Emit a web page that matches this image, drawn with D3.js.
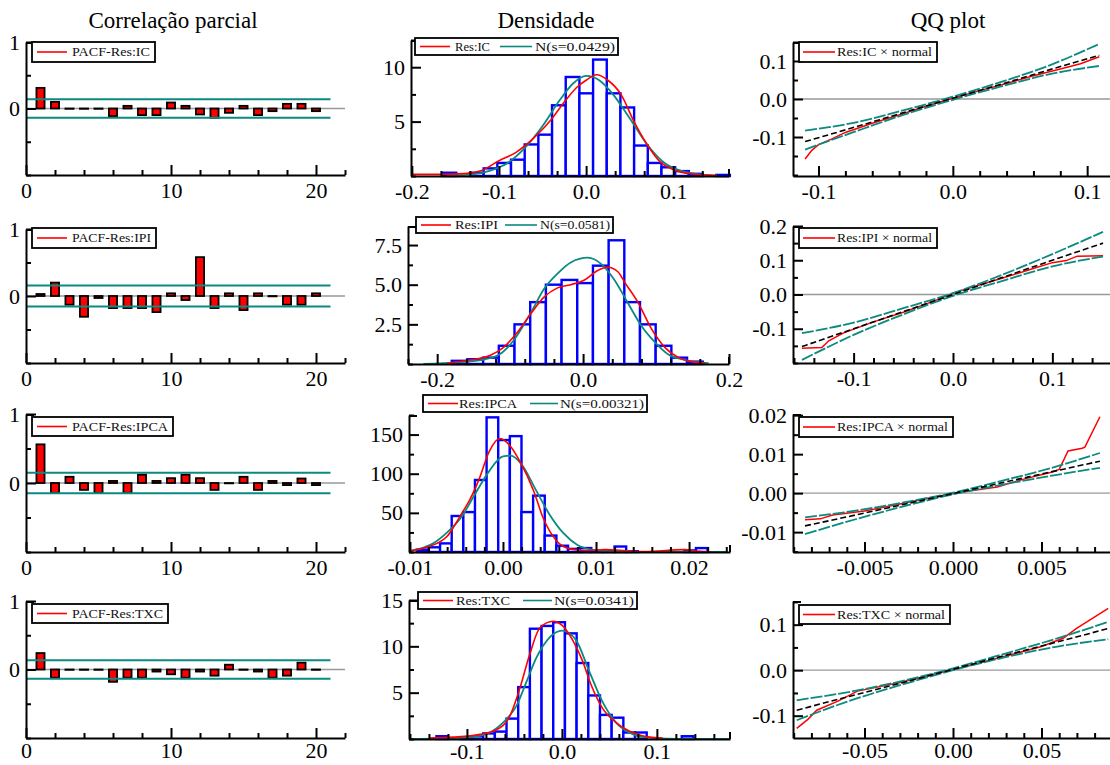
<!DOCTYPE html>
<html>
<head>
<meta charset="utf-8">
<script src="https://cdn.jsdelivr.net/npm/d3@7"></script>
<style>
  body { margin: 0; background: #fff; }
  svg text { font-family: "Liberation Serif", "Times New Roman", serif; }
</style>
</head>
<body>
<svg id="chart" width="1110" height="765"></svg>
<script>
// ---- data ----
const titles = ["Correlação parcial", "Densidade", "QQ plot"];
const seriesNames = ["IC", "IPI", "IPCA", "TXC"];
const normalSd = ["0.0429", "0.0581", "0.00321", "0.0341"];

// partial autocorrelations, lags 1..20
const lags = [1, 2, 3, 4, 5, 6, 7, 8, 9, 10, 11, 12, 13, 14, 15, 16, 17, 18, 19, 20];
const pacfIC   = [0.31, 0.10, -0.005, -0.005, -0.005, -0.115, 0.04, -0.10, -0.10, 0.09, 0.04, -0.09, -0.14, -0.065, 0.04, -0.10, -0.04, 0.07, 0.07, -0.04];
const pacfIPI  = [0.03, 0.20, -0.13, -0.31, -0.03, -0.18, -0.18, -0.18, -0.24, 0.04, -0.06, 0.58, -0.18, 0.04, -0.21, 0.04, -0.005, -0.13, -0.13, 0.04];
const pacfIPCA = [0.56, -0.145, 0.09, -0.10, -0.145, 0.03, -0.145, 0.12, 0.03, 0.07, 0.12, 0.07, -0.10, -0.005, 0.09, -0.10, 0.03, -0.03, 0.065, -0.03];
const pacfTXC  = [0.24, -0.12, -0.005, -0.005, -0.005, -0.18, -0.12, -0.12, -0.03, -0.07, -0.12, -0.03, -0.09, 0.07, -0.005, -0.03, -0.12, -0.09, 0.10, -0.005];
const pacfBand = [0.14, 0.155, 0.15, 0.135];

// histograms: first bin edge, bin width, bar heights
const histStart = [-0.1804, -0.18, -0.00926, -0.1321];
const histWidth = [0.0157, 0.0215, 0.00125, 0.0123];
const histIC   = [0, 0.3, 0, 0.3, 0.7, 1.2, 1.5, 2.9, 3.8, 6.5, 9.1, 7.6, 10.7, 7.6, 6.3, 2.8, 1.2, 0.8, 0.45, 0.2, 0, 0.1];
const histIPI  = [0.2, 0.3, 0.4, 1.15, 2.5, 3.9, 5.0, 5.3, 5.1, 6.2, 7.8, 3.9, 2.5, 1.15, 0.4, 0.15];
const histIPCA = [3, 6, 11, 46, 51, 92, 172, 143, 148, 51, 72, 21, 8, 4, 5, 1, 1, 7, 1, 0, 0, 0, 0, 2, 5];
const histTXC  = [0.3, 0, 0.1, 0.3, 0.6, 0.8, 2.2, 5.6, 11.9, 12.2, 12.6, 11.4, 8.2, 4.7, 2.6, 2.3, 0.7, 0.7, 0, 0, 0, 0.3];

// estimated densities [x, density]
const kdeIC = [[-0.2,0.15],[-0.17,0.15],[-0.14,0.22],[-0.12,0.5],[-0.10,1.4],[-0.08,2.2],[-0.06,3.5],[-0.04,5.2],[-0.025,6.8],[-0.01,8.2],[0.0,8.8],[0.012,9.3],[0.025,8.8],[0.04,7.5],[0.055,5.0],[0.07,2.9],[0.085,1.3],[0.10,0.6],[0.12,0.2],[0.15,0.05]];
const normIC = [[-0.16,0.02],[-0.13,0.15],[-0.11,0.5],[-0.09,1.2],[-0.07,2.6],[-0.05,4.6],[-0.03,7.0],[-0.015,8.5],[0.0,9.2],[0.015,8.8],[0.03,7.6],[0.05,5.3],[0.07,2.9],[0.09,1.2],[0.11,0.45],[0.13,0.15],[0.15,0.03]];
const kdeIPI = [[-0.1866,0.05],[-0.155,0.25],[-0.127,0.55],[-0.109,1.05],[-0.09,2.0],[-0.072,3.15],[-0.054,4.2],[-0.035,4.8],[-0.017,5.0],[0.002,5.3],[0.02,5.9],[0.034,6.1],[0.048,5.8],[0.057,5.15],[0.075,3.9],[0.094,2.2],[0.112,1.05],[0.131,0.4],[0.149,0.15],[0.167,0.05]];
const normIPI = [[-0.219,0.0],[-0.173,0.1],[-0.14,0.25],[-0.115,0.6],[-0.095,1.5],[-0.072,3.2],[-0.054,4.7],[-0.035,5.7],[-0.017,6.4],[0.0065,6.7],[0.025,6.3],[0.043,5.3],[0.062,3.8],[0.08,2.4],[0.098,1.4],[0.117,0.6],[0.14,0.25],[0.172,0.05]];
const kdeIPCA = [[-0.0101,1],[-0.0085,5],[-0.0071,11],[-0.006,20],[-0.0053,32],[-0.0044,50],[-0.0036,66],[-0.0025,95],[-0.0015,128],[-0.0003,145],[0.0008,135],[0.0018,116],[0.0033,78],[0.0043,44],[0.0057,15],[0.0072,4],[0.009,2],[0.011,3],[0.013,2],[0.015,0.5],[0.0175,2],[0.0195,3],[0.021,1],[0.0225,0]];
const normIPCA = [[-0.0101,1.5],[-0.009,4],[-0.0075,11],[-0.006,25],[-0.0045,44],[-0.003,74],[-0.0015,103],[0.0,122],[0.0008,123],[0.002,112],[0.0035,80],[0.005,48],[0.0065,24],[0.008,9],[0.0095,3],[0.011,1],[0.013,0.2],[0.024,0]];
const kdeTXC = [[-0.14,0.1],[-0.1144,0.2],[-0.0863,0.5],[-0.0688,1.0],[-0.0547,2.5],[-0.0442,5.5],[-0.0337,9.2],[-0.0232,12.0],[-0.0091,12.7],[0.0,12.3],[0.0112,10.7],[0.0218,8.4],[0.0305,5.9],[0.0428,3.3],[0.0568,1.8],[0.0744,0.7],[0.092,0.2],[0.106,0.1]];
const normTXC = [[-0.161,0.0],[-0.13,0.03],[-0.0863,0.35],[-0.0617,1.8],[-0.0477,3.6],[-0.0372,6.2],[-0.0267,8.8],[-0.0126,11.0],[0.0,11.7],[0.0147,10.7],[0.0288,7.3],[0.0428,4.0],[0.0568,1.8],[0.0708,0.7],[0.085,0.2],[0.12,0.02],[0.177,0.0]];

// QQ plots: theoretical quantiles, reference line, bands, sample quantiles
const qqX   = [[-0.110,-0.073,-0.037,0.0,0.036,0.073,0.109], [-0.152,-0.10,-0.05,0.0,0.05,0.10,0.151], [-0.00836,-0.0055,-0.0028,0.0,0.0028,0.0055,0.0083], [-0.0883,-0.059,-0.029,0.0,0.029,0.059,0.0877]];
const qqRef = [[-0.112,-0.074,-0.036,0.002,0.039,0.078,0.115], [-0.152,-0.100,-0.050,0.0,0.050,0.100,0.150], [-0.0084,-0.0056,-0.0029,-0.0001,0.0027,0.0054,0.0082], [-0.088,-0.058,-0.028,0.002,0.032,0.062,0.0916]];
const qqHi  = [[-0.083,-0.062,-0.030,0.006,0.045,0.090,0.145], [-0.113,-0.082,-0.040,0.004,0.058,0.118,0.183], [-0.0062,-0.0045,-0.0024,0.0001,0.0032,0.0064,0.0103], [-0.066,-0.048,-0.024,0.004,0.036,0.070,0.106]];
const qqLo  = [[-0.133,-0.086,-0.042,-0.002,0.033,0.066,0.087], [-0.191,-0.118,-0.058,-0.004,0.040,0.082,0.111], [-0.0105,-0.0067,-0.0034,-0.0003,0.0022,0.0044,0.0065], [-0.110,-0.068,-0.032,0.000,0.028,0.052,0.068]];
const qqIC   = [[-0.110,-0.158],[-0.105,-0.135],[-0.100,-0.120],[-0.090,-0.105],[-0.080,-0.088],[-0.060,-0.064],[-0.040,-0.042],[-0.020,-0.019],[0.0,0.002],[0.020,0.022],[0.040,0.041],[0.060,0.061],[0.080,0.079],[0.095,0.093],[0.109,0.111]];
const qqIPI  = [[-0.152,-0.157],[-0.132,-0.155],[-0.125,-0.135],[-0.11,-0.112],[-0.08,-0.080],[-0.05,-0.052],[-0.02,-0.020],[0.0,0.004],[0.02,0.022],[0.05,0.048],[0.08,0.075],[0.10,0.093],[0.114,0.099],[0.125,0.112],[0.151,0.113]];
const qqIPCA = [[-0.00836,-0.0068],[-0.0075,-0.0066],[-0.0068,-0.0056],[-0.005,-0.0046],[-0.003,-0.0028],[-0.001,-0.0009],[0.001,0.0006],[0.0025,0.0016],[0.004,0.0036],[0.0055,0.0053],[0.006,0.0061],[0.0065,0.0108],[0.0073,0.0115],[0.00745,0.0118],[0.0083,0.0196]];
const qqTXC  = [[-0.0883,-0.128],[-0.082,-0.108],[-0.077,-0.088],[-0.065,-0.068],[-0.054,-0.046],[-0.03,-0.027],[-0.01,-0.008],[0.0,0.001],[0.01,0.011],[0.03,0.031],[0.05,0.052],[0.0622,0.070],[0.0698,0.092],[0.0877,0.136]];

const pacfData = [pacfIC, pacfIPI, pacfIPCA, pacfTXC];
const histData = [histIC, histIPI, histIPCA, histTXC];
const kdeData = [kdeIC, kdeIPI, kdeIPCA, kdeTXC];
const normData = [normIC, normIPI, normIPCA, normTXC];
const qqData = [qqIC, qqIPI, qqIPCA, qqTXC];

// ---- layout ----
const RED = "#ff0000", TEAL = "#0a8a80", BLUE = "#0000ff";
const xPad = [7, 7, 7, 4]; // x label padding per row (bottom row sits at the page edge)

const pacfLayout = [
  {x: [26, 345], y: [175, 42], legend: [32, 42, 123, 20]},
  {x: [26, 345], y: [363, 229], legend: [32, 228, 124, 20]},
  {x: [26, 345], y: [552, 414], legend: [32, 417, 141, 19]},
  {x: [26, 345], y: [738, 601], legend: [32, 604, 136, 19]}
];
const densLayout = [
  {x: [411, 729], y: [176, 40], xd: [-0.201, 0.164], yd: [0, 12.5], xMaj: [-0.2, -0.1, 0, 0.1], xStep: 0.1 / 3, yMaj: [5, 10], yStep: 2.5, fx: ".1f", fy: "d",
   legend: [415, 38, 203, 17], t1: [455, 35], teal: [500, 532], t2: [535, 80]},
  {x: [408, 729], y: [364, 226], xd: [-0.24, 0.2], yd: [0, 8.7], xMaj: [-0.2, 0, 0.2], xStep: 0.04, yMaj: [2.5, 5, 7.5], yStep: 1.25, fx: ".1f", fy: ".1f",
   legend: [416, 217, 197, 16], t1: [455, 43], teal: [505, 537], t2: [540, 70]},
  {x: [409, 730], y: [552, 415], xd: [-0.0101, 0.0244], yd: [0, 175], xMaj: [-0.01, 0, 0.01, 0.02], xStep: 0.002, yMaj: [50, 100, 150], yStep: 25, fx: ".2f", fy: "d",
   legend: [423, 395, 224, 17], t1: [459, 58], teal: [530, 558], t2: [560, 84]},
  {x: [409, 730], y: [739, 600], xd: [-0.161, 0.177], yd: [0, 15], xMaj: [-0.1, 0, 0.1], xStep: 0.02, yMaj: [5, 10, 15], yStep: 2.5, fx: ".1f", fy: "d",
   legend: [418, 592, 219, 17], t1: [456, 54], teal: [523, 552], t2: [554, 80]}
];
const qqLayout = [
  {x: [793, 1110], y: [176, 42], xd: [-0.119, 0.117], yd: [-0.2026, 0.15], xMaj: [-0.1, 0, 0.1], xStep: 0.02, yMaj: [-0.1, 0, 0.1], yStep: 0.05, fx: ".1f", fy: ".1f", legend: [799, 42, 138, 20]},
  {x: [793, 1110], y: [363, 226], xd: [-0.161, 0.158], yd: [-0.2, 0.2], xMaj: [-0.1, 0, 0.1], xStep: 0.02, yMaj: [-0.1, 0, 0.1, 0.2], yStep: 0.05, fx: ".1f", fy: ".1f", legend: [799, 228, 138, 20]},
  {x: [793, 1110], y: [552, 414], xd: [-0.00904, 0.00887], yd: [-0.0151, 0.0203], xMaj: [-0.005, 0, 0.005], xStep: 0.001, yMaj: [-0.01, 0, 0.01, 0.02], yStep: 0.005, fx: ".3f", fy: ".2f", legend: [799, 417, 154, 20]},
  {x: [793, 1110], y: [738, 601], xd: [-0.0904, 0.0887], yd: [-0.149, 0.152], xMaj: [-0.05, 0, 0.05], xStep: 0.01, yMaj: [-0.1, 0, 0.1], yStep: 0.05, fx: ".2f", fy: ".1f", legend: [799, 605, 151, 19]}
];

const svg = d3.select("#chart");

function fmt(p) {
  const f = d3.format(p);
  return d => f(d).replace("\u2212", "-");
}

// minor tick values on a regular step, leaving out the majors
function minorTicks(dom, step, majors) {
  const out = [];
  for (let i = Math.ceil(dom[0] / step - 1e-6); i * step <= dom[1] + step * 1e-6; i++) {
    const v = +(i * step).toFixed(10);
    if (!majors.some(m => Math.abs(m - v) < step * 1e-3)) out.push(v);
  }
  return out;
}

function drawAxes(g, x, y, spec, pad) {
  const y0 = y.range()[0], x0 = x.range()[0];
  g.append("g").attr("transform", `translate(0,${y0})`)
    .call(d3.axisBottom(x).tickValues(spec.xMaj).tickSizeInner(-10).tickSizeOuter(0).tickPadding(pad).tickFormat(fmt(spec.fx)));
  g.append("g").attr("transform", `translate(0,${y0})`)
    .call(d3.axisBottom(x).tickValues(minorTicks(x.domain(), spec.xStep, spec.xMaj)).tickSizeInner(-5).tickSizeOuter(0).tickFormat(""))
    .call(a => a.select(".domain").remove());
  g.append("g").attr("transform", `translate(${x0},0)`)
    .call(d3.axisLeft(y).tickValues(spec.yMaj).tickSizeInner(-10).tickSizeOuter(0).tickPadding(6).tickFormat(fmt(spec.fy)));
  g.append("g").attr("transform", `translate(${x0},0)`)
    .call(d3.axisLeft(y).tickValues(minorTicks(y.domain(), spec.yStep, spec.yMaj)).tickSizeInner(-5).tickSizeOuter(0).tickFormat(""))
    .call(a => a.select(".domain").remove());
  // small cap at the top of the y axis
  g.append("line").attr("x1", x0).attr("x2", x0 + 8)
    .attr("y1", y.range()[1] + 1).attr("y2", y.range()[1] + 1);
  g.selectAll(".domain, .tick line, line").attr("stroke", "#000").attr("stroke-width", 2);
  g.selectAll(".tick text").style("font-size", "22px").attr("fill", "#000");
}

function legendBox(x, y, w, h) {
  svg.append("rect").attr("x", x).attr("y", y).attr("width", w).attr("height", h)
    .attr("fill", "#fff").attr("stroke", "#000").attr("stroke-width", 1.8);
}
function legendLine(x1, x2, y, color) {
  svg.append("line").attr("x1", x1).attr("x2", x2).attr("y1", y).attr("y2", y)
    .attr("stroke", color).attr("stroke-width", 1.6);
}
function legendText(x, y, w, txt) {
  svg.append("text").attr("x", x).attr("y", y).attr("dy", "0.35em")
    .attr("textLength", w).attr("lengthAdjust", "spacingAndGlyphs")
    .style("font-size", "12px").attr("fill", "#111").text(txt);
}

// column titles
const titleX = [173, 546, 948];
titles.forEach((t, i) => {
  svg.append("text").attr("x", titleX[i]).attr("y", 28).attr("text-anchor", "middle")
    .style("font-size", "23px").attr("fill", "#000").text(t);
});

// ---- partial correlation panels ----
pacfData.forEach((vals, r) => {
  const L = pacfLayout[r];
  const x = d3.scaleLinear().domain([0, 22]).range(L.x);
  const y = d3.scaleLinear().domain([-1, 1]).range(L.y);
  const g = svg.append("g");
  g.append("line").attr("x1", x(0)).attr("x2", x(22)).attr("y1", y(0)).attr("y2", y(0))
    .attr("stroke", "#999").attr("stroke-width", 1.3);
  g.selectAll("rect.bar").data(vals).join("rect").attr("class", "bar")
    .attr("x", (d, i) => x(lags[i] - 0.28))
    .attr("width", x(0.56) - x(0))
    .attr("y", d => y(Math.max(d, 0)))
    .attr("height", d => Math.abs(y(d) - y(0)))
    .attr("fill", RED).attr("stroke", "#000").attr("stroke-width", 1.8);
  [pacfBand[r], -pacfBand[r]].forEach(b => {
    g.append("line").attr("x1", x(0)).attr("x2", x(21)).attr("y1", y(b)).attr("y2", y(b))
      .attr("stroke", TEAL).attr("stroke-width", 2);
  });
  drawAxes(svg.append("g"), x, y, {xMaj: [0, 10, 20], xStep: 2, yMaj: [0, 1], yStep: 0.5, fx: "d", fy: "d"}, xPad[r]);
  const [lx, ly, lw, lh] = L.legend;
  legendBox(lx, ly, lw, lh);
  legendLine(lx + 5, lx + 35, ly + lh / 2, RED);
  legendText(lx + 40, ly + lh / 2, lw - 45, "PACF-Res:" + seriesNames[r]);
});

// ---- density panels ----
histData.forEach((heights, r) => {
  const L = densLayout[r];
  const x = d3.scaleLinear().domain(L.xd).range(L.x);
  const y = d3.scaleLinear().domain(L.yd).range(L.y);
  const g = svg.append("g");
  const bins = heights.map((h, i) => ({x0: histStart[r] + i * histWidth[r], x1: histStart[r] + (i + 1) * histWidth[r], h: h}))
    .filter(b => b.h > 0);
  g.selectAll("rect").data(bins).join("rect")
    .attr("x", d => x(d.x0)).attr("width", d => x(d.x1) - x(d.x0))
    .attr("y", d => y(d.h)).attr("height", d => y(0) - y(d.h))
    .attr("fill", "#fff").attr("stroke", BLUE).attr("stroke-width", 2.4);
  const line = d3.line().x(d => x(d[0])).y(d => y(d[1])).curve(d3.curveMonotoneX);
  g.append("path").attr("d", line(normData[r])).attr("fill", "none").attr("stroke", TEAL).attr("stroke-width", 1.8);
  g.append("path").attr("d", line(kdeData[r])).attr("fill", "none").attr("stroke", RED).attr("stroke-width", 1.6);
  const ag = svg.append("g");
  drawAxes(ag, x, y, L, xPad[r]);
  ag.append("line").attr("x1", L.x[1]).attr("x2", L.x[1]).attr("y1", L.y[0]).attr("y2", L.y[0] - 7)
    .attr("stroke", "#000").attr("stroke-width", 2);
  const [lx, ly, lw, lh] = L.legend;
  legendBox(lx, ly, lw, lh);
  legendLine(lx + 5, lx + 35, ly + lh / 2, RED);
  legendText(L.t1[0], ly + lh / 2, L.t1[1], "Res:" + seriesNames[r]);
  legendLine(L.teal[0], L.teal[1], ly + lh / 2, TEAL);
  legendText(L.t2[0], ly + lh / 2, L.t2[1], "N(s=" + normalSd[r] + ")");
});

// ---- QQ panels ----
qqData.forEach((sample, r) => {
  const L = qqLayout[r];
  const x = d3.scaleLinear().domain(L.xd).range(L.x);
  const y = d3.scaleLinear().domain(L.yd).range(L.y);
  const g = svg.append("g");
  g.append("line").attr("x1", L.x[0]).attr("x2", L.x[1]).attr("y1", y(0)).attr("y2", y(0))
    .attr("stroke", "#999").attr("stroke-width", 1.3);
  const smooth = d3.line().x((d, i) => x(qqX[r][i])).y(d => y(d)).curve(d3.curveMonotoneX);
  const raw = d3.line().x(d => x(d[0])).y(d => y(d[1]));
  g.append("path").attr("d", raw(sample)).attr("fill", "none")
    .attr("stroke", RED).attr("stroke-width", 1.5);
  [qqHi[r], qqLo[r]].forEach(band => {
    g.append("path").attr("d", smooth(band)).attr("fill", "none")
      .attr("stroke", TEAL).attr("stroke-width", 1.8).attr("stroke-dasharray", "12,2");
  });
  g.append("path").attr("d", smooth(qqRef[r])).attr("fill", "none")
    .attr("stroke", "#000").attr("stroke-width", 1.6).attr("stroke-dasharray", "6,3");
  drawAxes(svg.append("g"), x, y, L, xPad[r]);
  const [lx, ly, lw, lh] = L.legend;
  legendBox(lx, ly, lw, lh);
  legendLine(lx + 4, lx + 36, ly + lh / 2, RED);
  legendText(lx + 38, ly + lh / 2, lw - 43, "Res:" + seriesNames[r] + " \u00d7 normal");
});
</script>
</body>
</html>
